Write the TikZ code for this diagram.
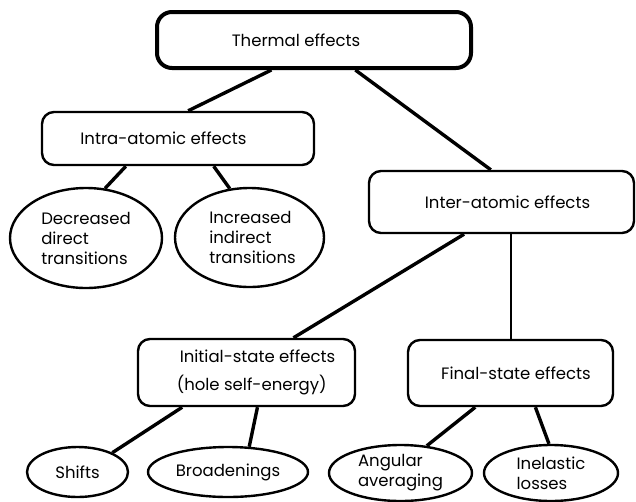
\documentclass[tikz,border=0pt]{standalone}
\usepackage{fontspec}
\setmainfont{Poppins}
\usetikzlibrary{shapes.geometric,calc}
\begin{document}
\begin{tikzpicture}[x=1pt,y=-1pt,
  every node/.style={font=\fontsize{16.5}{20}\selectfont},
  rbox/.style={draw,rounded corners=12pt,line width=2.4pt,inner sep=0pt,align=center},
  oval/.style={draw,ellipse,line width=2.4pt,inner sep=0pt,align=left},
  conn/.style={line width=3.4pt},
  thin conn/.style={line width=2pt}]
\useasboundingbox (0,0) rectangle (636,501);
\node[rbox,line width=4pt,rounded corners=15pt,minimum width=314pt,minimum height=56pt] (thermal) at (314,40) {Thermal effects\hspace*{36pt}};
\node[rbox,minimum width=272pt,minimum height=53pt] (intra) at (178,138.5) {Intra-atomic effects\hspace*{29pt}};
\node[rbox,minimum width=265pt,minimum height=62pt] (inter) at (501.5,202) {\hspace*{12pt}Inter-atomic effects};
\node[rbox,minimum width=217pt,minimum height=67pt] (initial) at (246.5,372.5) {\hspace*{19pt}\begin{tabular}{@{}l@{}}\hspace*{3pt}Initial-state effects\\[7pt](hole self-energy)\end{tabular}};
\node[rbox,minimum width=205pt,minimum height=66pt] (final) at (510.5,373) {\hspace*{11pt}Final-state effects};
\node[oval,minimum width=152pt,minimum height=100pt] (decr) at (86,238) {Decreased\\direct\\transitions};
\node[oval,minimum width=149pt,minimum height=99pt] (incr) at (249.5,237.5) {\hspace*{6pt}Increased\\\hspace*{6pt}indirect\\\hspace*{6pt}transitions};
\node[oval,minimum width=101pt,minimum height=50pt] (shifts) at (77.5,472) {Shifts};
\node[oval,minimum width=160pt,minimum height=50pt] (broad) at (228,472) {Broadenings};
\node[oval,minimum width=143pt,minimum height=56pt] (angular) at (400.5,473) {Angular\\averaging};
\node[oval,minimum width=134pt,minimum height=56pt] (inel) at (551,473) {Inelastic\\losses};
\draw[conn] ($(thermal.south west)!0.366!(thermal.south east)$) -- ($(intra.north west)!0.537!(intra.north east)$);
\draw[conn] ($(thermal.south west)!0.63!(thermal.south east)$) -- ($(inter.north west)!0.46!(inter.north east)$);
\draw[conn] ($(intra.south west)!0.31!(intra.south east)$) -- (decr.69);
\draw[conn] ($(intra.south west)!0.63!(intra.south east)$) -- (incr.112);
\draw[conn] ($(inter.south west)!0.36!(inter.south east)$) -- ($(initial.north west)!0.714!(initial.north east)$);
\draw[thin conn] (final.north |- inter.south) -- (final.north);
\draw[conn] ($(initial.south west)!0.207!(initial.south east)$) -- (shifts.29);
\draw[conn] ($(initial.south west)!0.55!(initial.south east)$) -- (broad.50);
\draw[conn] ($(final.south west)!0.33!(final.south east)$) -- (angular.46);
\draw[conn] ($(final.south west)!0.62!(final.south east)$) -- (inel.94);
\end{tikzpicture}
\end{document}
